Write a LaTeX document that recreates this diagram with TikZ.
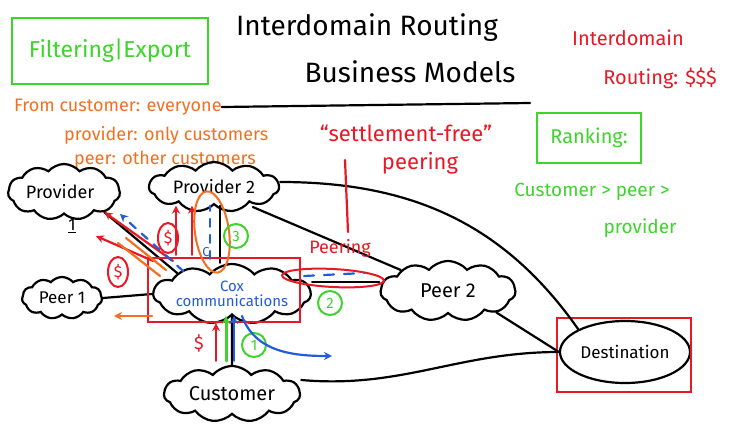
\documentclass[tikz,border=0pt]{standalone}
\usepackage{fontspec}
\setmainfont{Fira Sans}
\usetikzlibrary{shapes.symbols,shapes.geometric,arrows.meta}
\definecolor{ored}{RGB}{232,24,36}
\definecolor{oorange}{RGB}{242,112,32}
\definecolor{ogreen}{RGB}{62,212,44}
\definecolor{oblue}{RGB}{34,92,222}
\tikzset{
  cloudnode/.style={cloud, cloud ignores aspect, draw=black, line width=2.2pt, cloud puffs=11, cloud puff arc=100, inner sep=0pt, font=\fontsize{18}{20}\selectfont},
  ink/.style={line width=2.2pt, line cap=round},
  redink/.style={ink, draw=ored},
  orink/.style={ink, draw=oorange},
  grink/.style={ink, draw=ogreen},
  blink/.style={ink, draw=oblue},
  tip/.style={-{Stealth[length=8pt,width=8pt]}},
  circ/.style={circle, draw=ogreen, line width=2pt, text=ogreen, inner sep=1pt, minimum size=24pt, font=\fontsize{15}{17}\selectfont},
  rcirc/.style={ellipse, draw=ored, line width=2pt, text=ored, inner sep=0pt, minimum width=20pt, minimum height=30pt, font=\fontsize{16}{18}\selectfont},
  ortext/.style={text=oorange, anchor=west, inner sep=0pt, font=\fontsize{18}{20}\selectfont},
  rtext/.style={text=ored, inner sep=0pt, font=\fontsize{20}{22}\selectfont},
  gtext/.style={text=ogreen, inner sep=0pt, font=\fontsize{19}{21}\selectfont},
  ttext/.style={inner sep=0pt, font=\fontsize{28}{32}\selectfont}
}
\begin{document}
\begin{tikzpicture}[x=1pt,y=-1pt]
\useasboundingbox[fill=white] (0,0) rectangle (736,426);

% titles
\node[ttext] (t1) at (367,28) {Interdomain Routing};
\node[ttext] (t2) at (410,72) {Business Models};

% filtering box
\node[draw=ogreen, line width=2.2pt, minimum width=196pt, minimum height=66pt, text=ogreen, font=\fontsize{23}{25}\selectfont] (filt) at (110,51) {Filtering|Export};

% orange rules
\node[ortext] (o1) at (14,107) {From customer: everyone};
\node[ortext] (o2) at (64,135) {provider: only customers};
\node[ortext] (o3) at (74,160) {peer: other customers};
\draw[ink] (o1.east) -- (530,103);

% red top right
\node[rtext] (r1) at (628,38) {Interdomain};
\node[rtext] (r2) at (660,78) {Routing: \$\$\$};
\node[rtext, font=\fontsize{22}{24}\selectfont] (sf) at (406,133) {“settlement-free”};
\node[rtext, font=\fontsize{22}{24}\selectfont] (pe) at (420,163) {peering};

% ranking
\node[draw=ogreen, line width=2.2pt, minimum width=104pt, minimum height=50pt, text=ogreen, font=\fontsize{20}{22}\selectfont] (rank) at (589,138) {Ranking:};
\node[gtext] (g1) at (592,192) {Customer > peer >};
\node[gtext] (g2) at (640,228) {provider};

% nodes
\node[cloudnode, minimum width=112pt, minimum height=56pt] (p1) at (64,192) {Provider\phantom{1}};
\node[inner sep=0pt, font=\fontsize{17}{19}\selectfont] (p1n) at (72,226) {\underline{1}};
\node[cloudnode, minimum width=130pt, minimum height=50pt] (p2) at (214,187) {Provider 2};
\node[cloudnode, minimum width=80pt, minimum height=42pt, font=\fontsize{17}{19}\selectfont] (peer1) at (62,298) {Peer 1};
\node[cloudnode, minimum width=142pt, minimum height=60pt, text=oblue, align=center, font=\fontsize{15}{15}\selectfont] (cox) at (232,294) {Cox\\communications};
\node[cloudnode, minimum width=135pt, minimum height=60pt, font=\fontsize{20}{22}\selectfont] (peer2) at (448,291) {Peer 2};
\node[ellipse, draw=black, line width=2.2pt, minimum width=130pt, minimum height=62pt, inner sep=0pt, font=\fontsize{17}{19}\selectfont] (dest) at (625,352) {Destination};
\node[draw=ored, line width=2.2pt, minimum width=134pt, minimum height=74pt] (destbox) at (624,355) {};
\node[cloudnode, minimum width=136pt, minimum height=56pt, font=\fontsize{20}{22}\selectfont] (cust) at (232,394) {Customer};

% black connectors
\draw[ink] (p1.south east) -- (cox.north west);
\draw[ink] (p2.south) ++(6,0) coordinate (p2s) -- (p2s |- cox.north);
\draw[ink] (peer1.east) -- (cox.west);
\draw[ink] (cox.east) ++(0,-12) coordinate (coxe) -- (coxe -| peer2.west);
\draw[ink] (cust.north) -- (cox.south);
\draw[ink] (p2.east) ++(0,-5) coordinate (p2e) to[out=0, in=125] (dest.north west);
\draw[ink] (p2.south east) ++(-8,2) coordinate (p2se) -- (peer2.north west);
\draw[ink] (peer2.south east) -- (dest.west);
\draw[ink] (cust.east) ++(0,-14) coordinate (custe) to[out=-5, in=180] (dest.west);

% red annotations
\node[draw=ored, line width=2.2pt, minimum width=152pt, minimum height=64pt] (coxbox) at (224,290) {};
\coordinate (sfl) at (345,160);
\draw[redink] (sfl) -- (348,232);
\node[rtext, font=\fontsize{18}{20}\selectfont] (peering) at (340,248) {Peering};
\node[ellipse, draw=ored, line width=2pt, minimum width=102pt, minimum height=18pt, rotate=-3] (pover) at (333,278) {};
\draw[redink, tip] (coxbox.north west) ++(26,4) coordinate (ra1) -- (p1.south east);
\draw[redink, tip] (coxbox.north west) ++(6,4) coordinate (ra2) -- (96,236);
\draw[redink, tip] (coxbox.north) ++(-48,-2) coordinate (ra3) -- (ra3 |- p2.south);
\draw[redink, tip] (coxbox.north) ++(-32,-2) coordinate (ra4) -- (ra4 |- p2.south);
\node[rcirc] (d1) at (168,238) {\$};
\node[rcirc] (d2) at (118,272) {\$};
\node[rtext, font=\fontsize{18}{20}\selectfont] (d3) at (199,343) {\$};
\draw[redink, tip] (cust.north) ++(-16,-4) coordinate (ra5) -- (ra5 |- coxbox.south);

% orange
\draw[orink] (118,243) -- (160,276);
\draw[orink] (126,238) -- (166,270);
\draw[orink, tip] (152,316) -- (114,316);
\node[ellipse, draw=oorange, line width=2pt, minimum width=34pt, minimum height=82pt, rotate=8] (oel) at (212,232) {};

% green
\node[circ] (c3) at (236,236) {3};
\node[circ] (c2) at (330,303) {2};
\node[circ] (c1) at (254,345) {1};
\draw[grink, line width=3pt, tip] (cust.north) ++(-6,-4) coordinate (ga) -- (ga |- cox.south);

% blue
\draw[blink, dashed, dash pattern=on 8pt off 8pt, tip] (cox.north west) ++(6,-2) coordinate (ba1) -- (120,214);
\draw[blink, dashed, dash pattern=on 8pt off 8pt] (cox.north) ++(-22,-4) coordinate (ba2) -- (ba2 |- p2.south);
\node[text=oblue, font=\fontsize{13}{15}\selectfont] (bc) at (206,252) {C};
\draw[blink, dashed, dash pattern=on 10pt off 10pt] (cox.east) ++(-8,-18) coordinate (ba3) -- (364,273);
\draw[blink, tip] (cust.north) ++(2,-4) coordinate (bb) -- (bb |- cox.south);
\draw[blink, tip] (cox.south) ++(10,0) coordinate (bc1) to[out=-70, in=180] (332,356);

\end{tikzpicture}
\end{document}
